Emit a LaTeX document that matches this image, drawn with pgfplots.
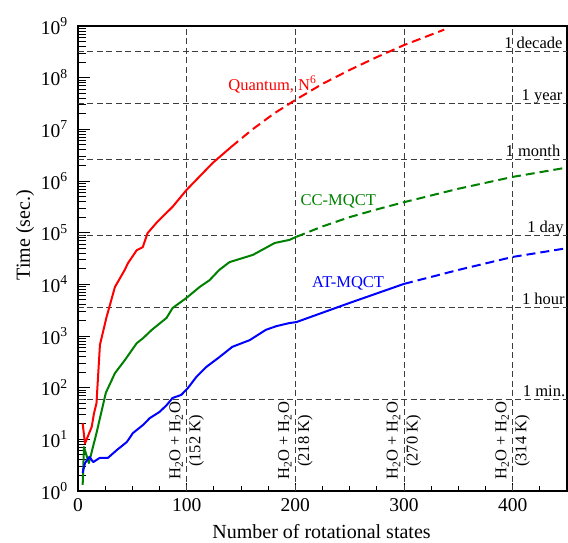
\documentclass[border=0pt]{standalone}
\usepackage{fontspec}
\setmainfont{Liberation Serif}
\usepackage{pgfplots}
\pgfplotsset{compat=1.18}
\definecolor{cgreen}{RGB}{0,128,0}
\definecolor{gridc}{RGB}{60,60,60}
\tikzset{gridline/.style={gridc, line width=0.9pt, dash pattern=on 6pt off 3.5pt},
  annot/.style={font=\fontsize{16.5}{20}\selectfont},
  vlab/.style={rotate=90, anchor=west, align=center, inner sep=0pt, font=\fontsize{16.5}{20}\selectfont},
  rlab/.style={anchor=base east, inner sep=0pt, yshift=3pt, font=\fontsize{16.5}{20}\selectfont}}
\begin{document}
\begin{tikzpicture}
\useasboundingbox (-78pt,-51pt) rectangle (490pt,491pt);
\begin{axis}[
  scale only axis, width=489pt, height=465pt,
  at={(0,0)}, anchor=south west,
  xmin=0, xmax=450, ymode=log, ymin=1, ymax=1e9,
  axis line style={line width=1.2pt},
  xtick={0,100,200,300,400}, xticklabels={0,100,200,300,400},
  minor xtick={25,50,75,125,150,175,225,250,275,325,350,375,425},
  ytick={1,10,100,1000,1e4,1e5,1e6,1e7,1e8,1e9},
  yticklabels={10\textsuperscript{0},10\textsuperscript{1},10\textsuperscript{2},10\textsuperscript{3},10\textsuperscript{4},10\textsuperscript{5},10\textsuperscript{6},10\textsuperscript{7},10\textsuperscript{8},10\textsuperscript{9}},
  minor ytick={2,3,4,5,6,7,8,9,20,30,40,50,60,70,80,90,200,300,400,500,600,700,800,900,2000,3000,4000,5000,6000,7000,8000,9000,2e4,3e4,4e4,5e4,6e4,7e4,8e4,9e4,2e5,3e5,4e5,5e5,6e5,7e5,8e5,9e5,2e6,3e6,4e6,5e6,6e6,7e6,8e6,9e6,2e7,3e7,4e7,5e7,6e7,7e7,8e7,9e7,2e8,3e8,4e8,5e8,6e8,7e8,8e8,9e8},
  xtick pos=bottom, ytick pos=left, tick align=inside,
  major tick length=12pt, minor tick length=8pt,
  xtick style={/pgfplots/major tick length=8pt, /pgfplots/minor tick length=5pt},
  tick style={line width=0.8pt, black},
  tick label style={font=\fontsize{19.5}{22}\selectfont},
  yticklabel style={inner sep=0pt, xshift=-10pt},
  xticklabel style={inner sep=0pt, yshift=-7pt},
  xlabel={Number of rotational states},
  ylabel={Time (sec.)},
  label style={font=\fontsize{20}{24}\selectfont},
  x label style={at={(axis description cs:0.498,-0.1032)}, anchor=base},
  y label style={at={(axis description cs:-0.0982,0.55)}, rotate=0, anchor=base},
  clip=true,
]
% reference lines
\addplot[gridline, forget plot] coordinates {(0,60) (450,60)};
\addplot[gridline, forget plot] coordinates {(0,3600) (450,3600)};
\addplot[gridline, forget plot] coordinates {(0,86400) (450,86400)};
\addplot[gridline, forget plot] coordinates {(0,2592000) (450,2592000)};
\addplot[gridline, forget plot] coordinates {(0,31536000) (450,31536000)};
\addplot[gridline, forget plot] coordinates {(0,315360000) (450,315360000)};
\addplot[gridline, forget plot] coordinates {(100,1) (100,1e9)};
\addplot[gridline, forget plot] coordinates {(200,1) (200,1e9)};
\addplot[gridline, forget plot] coordinates {(300,1) (300,1e9)};
\addplot[gridline, forget plot] coordinates {(400,1) (400,1e9)};
% Quantum
\addplot[red, line width=2pt, line join=round] coordinates {
(4.3,20.4) (6.4,8.3) (12.6,17.4) (14.7,31.6) (17,50) (20.2,676) (26.3,2340) (34,8900) (43,19000) (46,25700) (54,45700) (59.6,52500) (64,97700) (73,162000) (87,316000) (100,676000) (124,2240000) (141,4570000)};
\addplot[red, line width=2pt, dash pattern=on 9pt off 5pt] coordinates {
(141,4570000) (160,9770000) (180,2.0e7) (200,3.7e7) (225,7.6e7) (250,1.41e8) (275,2.5e8) (300,4.27e8) (337,8.5e8)};
% CC-MQCT
\addplot[cgreen, line width=2pt, line join=round] coordinates {
(4.3,1.32) (5.5,7.1) (10,3.47) (17,13.2) (25.6,79.4) (34,191) (43,339) (54,724) (60,912) (68,1320) (81.5,2240) (87,3470) (100,5500) (112,8910) (121,12000) (130,19000) (139.4,26900) (161,37200) (181,63100) (194.5,72400) (201,83200)};
\addplot[cgreen, line width=2pt, dash pattern=on 9pt off 5pt] coordinates {
(201,83200) (225,132000) (250,200000) (275,282000) (300,389000) (350,708000) (400,1200000) (450,1820000)};
% AT-MQCT
\addplot[blue, line width=2pt, line join=round] coordinates {
(4.3,2.24) (6.4,3.47) (10.5,4.57) (14,3.63) (20,4.37) (27.5,4.37) (35.6,6.17) (45,8.91) (50.5,13.2) (60,19.1) (66,25.7) (75,33.9) (81.5,45.7) (87,63.1) (95,72.4) (101,97.7) (109,162) (118,251) (130,389) (142,617) (158,832) (173,1320) (182.5,1550) (194.5,1780) (201,1860) (250,4370) (300,10200)};
\addplot[blue, line width=2pt, dash pattern=on 9pt off 5pt] coordinates {
(300,10200) (350,19000) (400,33900) (450,50100)};
% curve labels
\node[annot, red, anchor=base] at (axis cs:178.9,5.75e7) {Quantum, N\textsuperscript{6}};
\node[annot, cgreen, anchor=base] at (axis cs:239.5,3.43e5) {CC-MQCT};
\node[annot, blue, anchor=base] at (axis cs:248.6,8510) {AT-MQCT};
% right labels
\node[rlab] at (axis cs:446,315360000) {1 decade};
\node[rlab] at (axis cs:446,31536000) {1 year};
\node[rlab] at (axis cs:444,2592000) {1 month};
\node[rlab] at (axis cs:447,86400) {1 day};
\node[rlab] at (axis cs:448,3600) {1 hour};
\node[rlab] at (axis cs:448.5,60) {1 min.};
% vertical labels
\node[vlab] at (axis cs:100,1.63) {H\textsubscript{2}O + H\textsubscript{2}O\\(152 K)};
\node[vlab] at (axis cs:200,1.63) {H\textsubscript{2}O + H\textsubscript{2}O\\(218 K)};
\node[vlab] at (axis cs:300,1.63) {H\textsubscript{2}O + H\textsubscript{2}O\\(270 K)};
\node[vlab] at (axis cs:400,1.63) {H\textsubscript{2}O + H\textsubscript{2}O\\(314 K)};
\end{axis}
\end{tikzpicture}
\end{document}
